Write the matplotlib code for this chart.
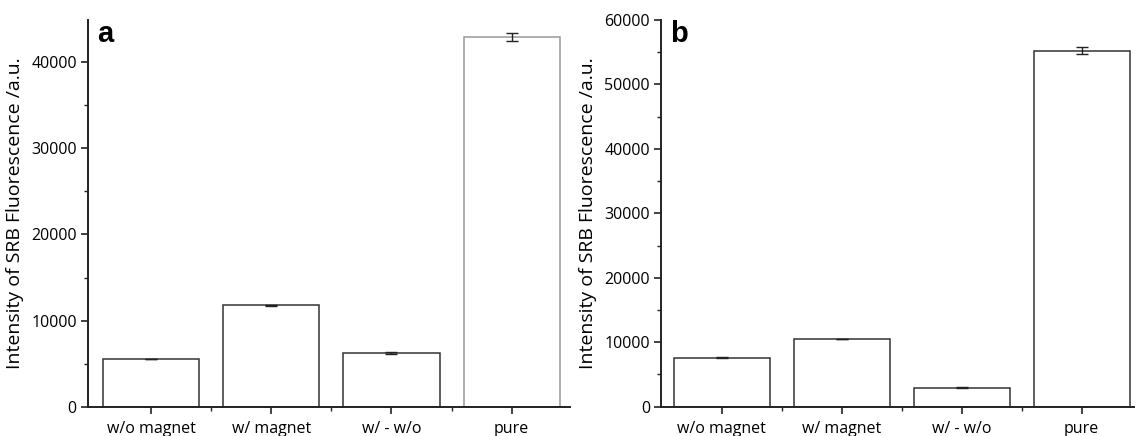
import numpy as np
import matplotlib
matplotlib.use('Agg')
import matplotlib.pyplot as plt
from matplotlib.ticker import MultipleLocator

# data
categories = ['w/o magnet', 'w/ magnet', 'w/ - w/o', 'pure']
values_a = [5540, 11800, 6270, 42950]
errors_a = [50, 60, 100, 480]
values_b = [7600, 10500, 2950, 55250]
errors_b = [100, 60, 100, 500]

plt.rcParams['font.family'] = ['Open Sans', 'DejaVu Sans']

fig = plt.figure(figsize=(11.35, 4.36), dpi=100, facecolor='white')
ax_a = fig.add_axes([0.0775, 0.0672, 0.4245, 0.8869])
ax_b = fig.add_axes([0.5824, 0.0672, 0.4176, 0.8869])

x = np.arange(1, len(categories) + 1)
axis_color = '#222222'


def draw_panel(ax, values, errors, ymax, xlim, letter, edge_colors):
    ax.bar(x, values, width=0.8, color='white', edgecolor=edge_colors,
           linewidth=1.1, zorder=2)
    ax.errorbar(x, values, yerr=errors, fmt='none', ecolor='#222222',
                elinewidth=1.0, capsize=4, capthick=1.0, zorder=3)
    ax.set_xlim(*xlim)
    ax.set_ylim(0, ymax)
    ax.set_xticks(x)
    ax.set_xticklabels(categories, fontsize=11.5)
    ax.set_xticks(x[:-1] + 0.5, minor=True)
    ax.yaxis.set_major_locator(MultipleLocator(10000))
    ax.yaxis.set_minor_locator(MultipleLocator(5000))
    ax.tick_params(axis='both', which='major', direction='out', length=5,
                   width=1.2, color=axis_color, labelsize=11.5, pad=3)
    ax.tick_params(axis='both', which='minor', direction='out', length=3,
                   width=1.0, color=axis_color)
    ax.tick_params(axis='x', which='major', pad=5)
    for side in ['top', 'right']:
        ax.spines[side].set_visible(False)
    for side in ['left', 'bottom']:
        ax.spines[side].set_color(axis_color)
        ax.spines[side].set_linewidth(1.4)
    ax.set_ylabel('Intensity of SRB Fluorescence /a.u.', fontsize=14,
                  labelpad=5)
    ax.text(0.02, 1.0, letter, transform=ax.transAxes, fontsize=21,
            fontweight='bold', family='Liberation Sans', ha='left', va='top')


draw_panel(ax_a, values_a, errors_a, 44900, (0.475, 4.483), 'a',
           ['#333333', '#333333', '#333333', '#999999'])
draw_panel(ax_b, values_b, errors_b, 60000, (0.494, 4.444), 'b',
           ['#333333'] * 4)

fig.savefig('out.png', dpi=100, facecolor='white')
